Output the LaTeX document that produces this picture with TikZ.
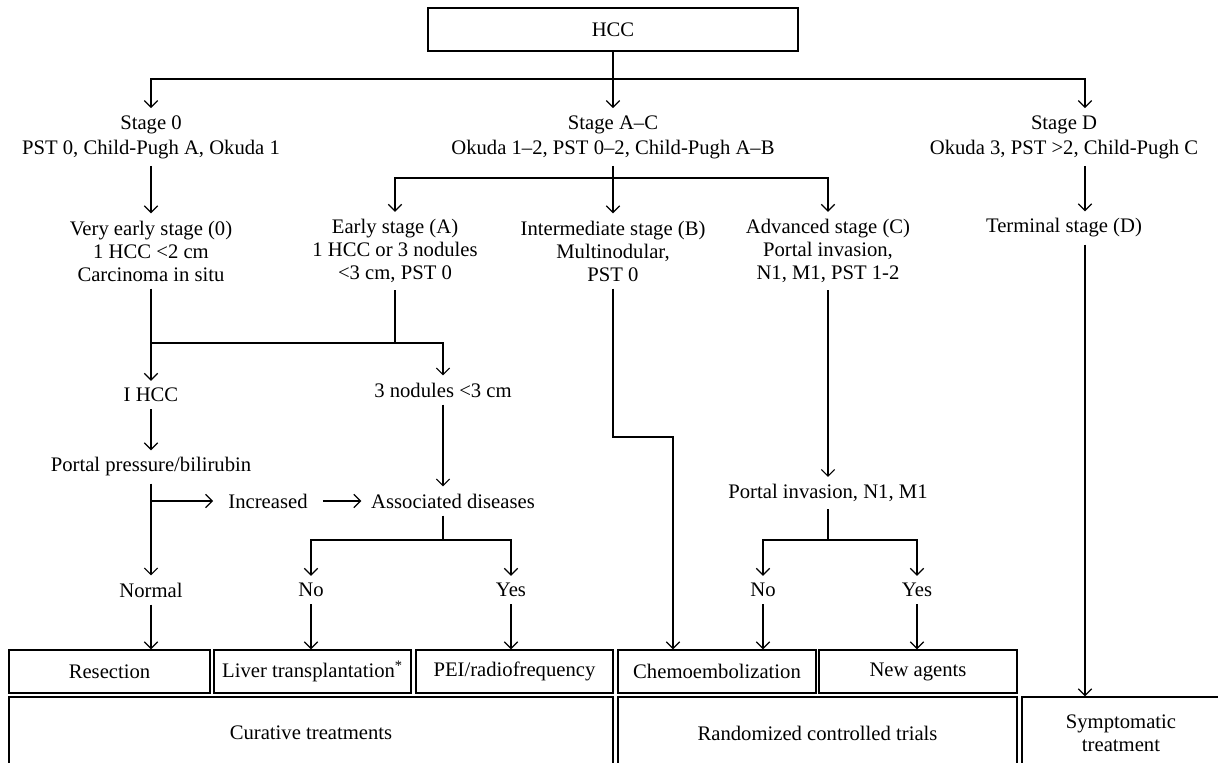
\documentclass[tikz,border=0pt]{standalone}
\usepackage{fontspec}
\setmainfont{Liberation Serif}
\usetikzlibrary{arrows.meta}
\tikzset{
  arr/.style={-{Straight Barb[length=5pt,width=10pt]}},
  txt/.style={align=center, inner sep=5pt, font=\fontsize{15.5}{17.3}\selectfont},
  stagetxt/.style={txt, font=\fontsize{15.5}{18.8}\selectfont},
  tbox/.style={draw, line width=0.9pt, inner sep=0pt, minimum height=32.25pt, font=\fontsize{15.5}{17.3}\selectfont},
  bigbox/.style={tbox, minimum height=54pt, align=center}
}
\begin{document}
\begin{tikzpicture}[x=0.75pt, y=-0.75pt, line width=0.9pt]
    \useasboundingbox (0,0) rectangle (1218,763);
    \node[tbox, minimum width=277.5pt](hcc) at (613,29.5){HCC};
    \node[stagetxt](s0) at (151,137){Stage 0\\PST 0, Child-Pugh A, Okuda 1};
    \node[stagetxt](sac) at (613,137){Stage A–C\\Okuda 1–2, PST 0–2, Child-Pugh A–B};
    \node[stagetxt](sd) at (1064,137){Stage D\\Okuda 3, PST >2, Child-Pugh C};
    \node[txt](ve) at (151,251){Very early stage (0)\\1 HCC <2 cm\\Carcinoma in situ};
    \node[txt](ea) at (395,251){Early stage (A)\\1 HCC or 3 nodules\\<3 cm, PST 0};
    \node[txt](ib) at (613,251){Intermediate stage (B)\\Multinodular,\\PST 0};
    \node[txt](ac) at (828,251){Advanced stage (C)\\Portal invasion,\\N1, M1, PST 1-2};
    \node[txt](td) at (1064,228){Terminal stage (D)};
    \node[txt](ihcc) at (151,395){I HCC};
    \node[txt](nod) at (443,390){3 nodules <3 cm};
    \node[txt](pp) at (151,467){Portal pressure/bilirubin};
    \node[txt, inner xsep=11pt](inc) at (268,501){Increased};
    \node[txt, inner xsep=7pt](ad) at (453,501){Associated diseases};
    \node[txt](pi) at (828,493){Portal invasion, N1, M1};
    \node[txt](normal) at (151,590){Normal};
    \node[txt](no1) at (311,590){No};
    \node[txt](yes1) at (511,590){Yes};
    \node[txt](no2) at (763,590){No};
    \node[txt](yes2) at (917,590){Yes};
    \node[tbox, minimum width=150.75pt](res) at (109.5,671.5){Resection};
    \node[tbox, minimum width=147.75pt](lt) at (312.5,671.5){Liver transplantation\textsuperscript{*}};
    \node[tbox, minimum width=147.75pt](pei) at (514.5,671.5){PEI/radiofrequency};
    \node[tbox, minimum width=148.5pt](chemo) at (717,671.5){Chemoembolization};
    \node[tbox, minimum width=148.5pt](na) at (918,671.5){New agents};
    \node[bigbox, minimum width=453pt](cur) at (311,733){Curative treatments};
    \node[bigbox, minimum width=299.25pt](rct) at (817.5,733){Randomized controlled trials};
    \node[bigbox, minimum width=148.5pt](sym) at (1121,733){Symptomatic\\treatment};
    \coordinate (hj) at (613,79);
    \coordinate (acj) at (613,178);
    \coordinate (ej) at (395,343);
    \coordinate (jog) at (673,437);
    \coordinate (adj) at (443,540);
    \coordinate (pj) at (828,540);
    \coordinate (dcol) at (1085,79);
    \draw[arr](hcc.south)--(sac.north);
    \draw[arr](hj)-|(s0.north);
    \draw[arr](hj)-|(sd.north-|dcol);
    \draw[arr](s0.south)--(ve.north);
    \draw(sac.south)--(acj);
    \draw[arr](acj)-|(ea.north);
    \draw[arr](acj)--(ib.north);
    \draw[arr](acj)-|(ac.north);
    \draw[arr](sd.south-|dcol)--(td.north-|dcol);
    \draw(ea.south)--(ej);
    \draw[arr](ve.south)--(ihcc.north);
    \draw[arr](ve.south|-ej)-|(nod.north);
    \draw[arr](ihcc.south)--(pp.north);
    \draw[arr](nod.south)--(nod.south|-ad.north);
    \draw[arr](pp.south)--(normal.north);
    \draw[arr](pp.south|-inc.west)--(inc.west);
    \draw[arr](inc.east)--(inc.east-|ad.west);
    \draw(ad.south-|adj)--(adj);
    \draw[arr](adj)-|(no1.north);
    \draw[arr](adj)-|(yes1.north);
    \draw[arr](ib.south)|-(jog)--(jog|-chemo.north);
    \draw[arr](ac.south)--(pi.north);
    \draw(pi.south)--(pj);
    \draw[arr](pj)-|(no2.north);
    \draw[arr](pj)-|(yes2.north);
    \draw[arr](normal.south)--(normal.south|-res.north);
    \draw[arr](no1.south)--(no1.south|-lt.north);
    \draw[arr](yes1.south)--(yes1.south|-pei.north);
    \draw[arr](no2.south)--(no2.south|-chemo.north);
    \draw[arr](yes2.south)--(yes2.south|-na.north);
    \draw[arr](td.south-|dcol)--(dcol|-sym.north);
\end{tikzpicture}
\end{document}
